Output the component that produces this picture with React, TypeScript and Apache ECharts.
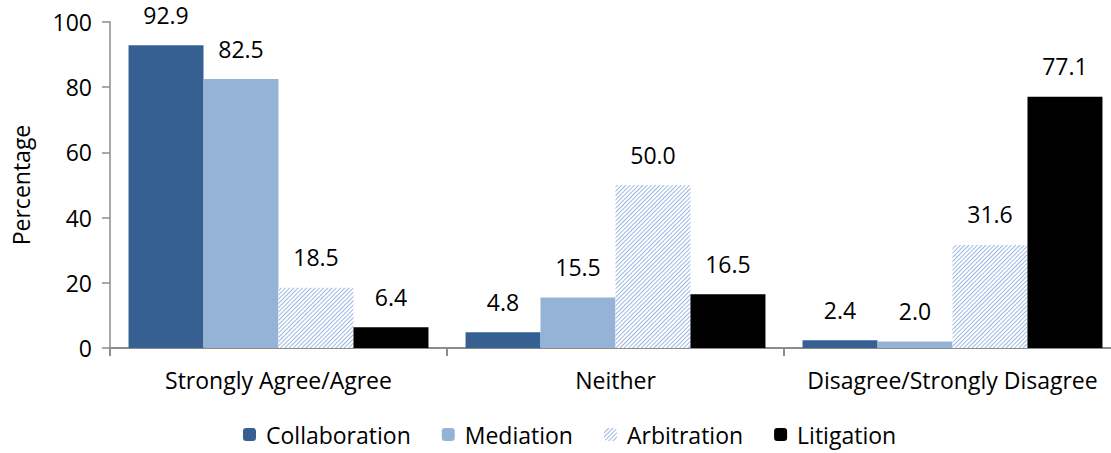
import React, { useEffect, useRef } from "react";
import * as echarts from "echarts";

const categories = ["Strongly Agree/Agree", "Neither", "Disagree/Strongly Disagree"];
const collaboration = [92.9, 4.8, 2.4];
const mediation = [82.5, 15.5, 2.0];
const arbitration = [18.5, 50.0, 31.6];
const litigation = [6.4, 16.5, 77.1];
const yTicks = [0, 20, 40, 60, 80, 100];

const FONT = "'Open Sans', Lato, sans-serif";
const FS = 23;

export default function App() {
  const ref = useRef<HTMLDivElement>(null);
  useEffect(() => {
    if (!ref.current) return;
    const chart = echarts.init(ref.current, null, { renderer: "svg" });
    const label = {
      show: true,
      position: "top" as const,
      distance: 19,
      color: "#000",
      fontSize: FS,
      fontFamily: FONT,
      formatter: (p: any) => Number(p.value).toFixed(1),
    };
    const mk = (name: string, data: number[], itemStyle: any) => ({
      name,
      type: "bar",
      data,
      barGap: "0%",
      barCategoryGap: "11%",
      itemStyle,
      label,
    });
    chart.setOption({
      animation: false,
      textStyle: { fontFamily: FONT },
      grid: { left: 110, right: 0, top: 22, bottom: 105 },
      legend: {
        bottom: 2,
        left: 238,
        itemWidth: 13,
        itemHeight: 13,
        itemGap: 31,
        textStyle: { fontSize: FS, color: "#000", fontFamily: FONT, padding: [0, 0, 0, 5] },
        data: ["Collaboration", "Mediation", "Arbitration", "Litigation"],
      },
      xAxis: {
        type: "category",
        data: categories,
        axisLine: { lineStyle: { color: "#8c8c8c", width: 2 } },
        axisTick: { show: true, length: 8, lineStyle: { color: "#8c8c8c", width: 2 } },
        axisLabel: { fontSize: FS, color: "#000", margin: 20, fontFamily: FONT, interval: 0 },
      },
      yAxis: {
        type: "value",
        min: 0,
        max: 100,
        interval: 20,
        name: "Percentage",
        nameLocation: "middle",
        nameGap: 78,
        nameTextStyle: { fontSize: FS, color: "#000", fontFamily: FONT },
        axisLine: { show: true, lineStyle: { color: "#8c8c8c", width: 1.5 } },
        axisTick: { show: true, length: 8, lineStyle: { color: "#8c8c8c", width: 1.5 } },
        axisLabel: {
          fontSize: FS,
          color: "#000",
          margin: 18,
          fontFamily: FONT,
          formatter: (v: number) => (yTicks.includes(v) ? String(v) : ""),
        },
        splitLine: { show: false },
      },
      series: [
        mk("Collaboration", collaboration, { color: "#376092" }),
        mk("Mediation", mediation, { color: "#95b3d7" }),
        mk("Arbitration", arbitration, {
          color: "#ffffff",
          decal: {
            symbol: "rect",
            symbolSize: 1,
            color: "#9db7e2",
            backgroundColor: "#e8eff9",
            dashArrayX: [1, 0],
            dashArrayY: [1, 1.5],
            rotation: -Math.PI / 4,
          },
        }),
        mk("Litigation", litigation, { color: "#000000" }),
      ],
    });
    return () => chart.dispose();
  }, []);
  return (
    <div style={{ width: 1111, height: 453, position: "absolute", left: 0, top: 0, overflow: "hidden" }}>
      <div ref={ref} style={{ width: 1121, height: 453, position: "absolute", left: 0, top: 0 }} />
    </div>
  );
}
